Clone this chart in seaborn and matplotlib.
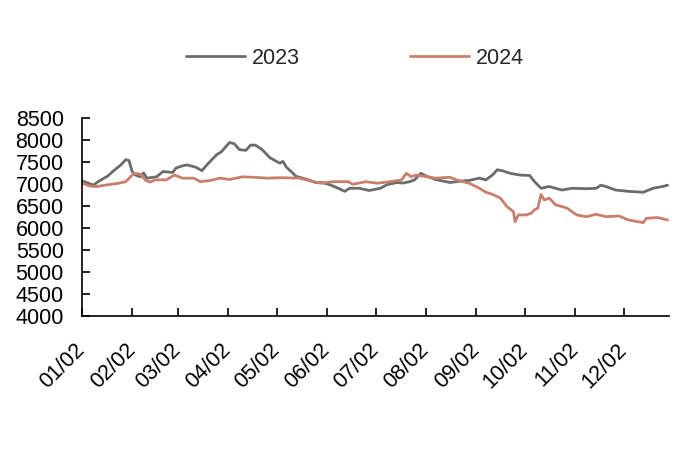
import pandas as pd
import matplotlib
matplotlib.use("Agg")
import matplotlib.pyplot as plt
import matplotlib.dates as mdates
import seaborn as sns

# === DATA (days counted from 01/02) ===
DAYS_2023 = [0, 3, 7, 10, 16, 19, 24, 27, 29, 31, 33, 36, 38, 40, 46, 50, 56, 58,
             62, 65, 70, 74, 78, 83, 86, 91, 94, 97, 101, 104, 107, 111, 116, 122,
             124, 126, 129, 132, 139, 144, 148, 153, 158, 162, 165, 171, 177, 184,
             188, 194, 198, 202, 205, 209, 212, 218, 227, 233, 239, 245, 249, 253,
             256, 259, 264, 270, 276, 279, 283, 288, 292, 296, 302, 311, 317, 320,
             323, 329, 337, 346, 352, 358, 361]
VALS_2023 = [7070, 7030, 6970, 7050, 7180, 7280, 7430, 7550, 7530, 7280, 7200, 7160,
             7250, 7130, 7160, 7280, 7260, 7360, 7410, 7430, 7380, 7300, 7470, 7660,
             7730, 7940, 7910, 7780, 7760, 7880, 7880, 7780, 7590, 7470, 7510, 7380,
             7280, 7170, 7100, 7030, 7030, 6980, 6900, 6830, 6900, 6900, 6850, 6900,
             6980, 7030, 7020, 7050, 7090, 7240, 7180, 7100, 7030, 7060, 7080, 7130,
             7090, 7200, 7320, 7300, 7240, 7200, 7190, 7050, 6900, 6940, 6900, 6860,
             6900, 6890, 6900, 6970, 6940, 6860, 6830, 6810, 6900, 6940, 6970]

DAYS_2024 = [0, 5, 9, 15, 22, 27, 30, 32, 36, 39, 42, 45, 52, 57, 62, 69, 73, 79,
             85, 91, 99, 106, 114, 122, 134, 140, 147, 155, 164, 167, 175, 182, 190,
             197, 200, 203, 206, 212, 218, 227, 231, 239, 245, 249, 253, 258, 262,
             266, 267, 269, 274, 277, 279, 281, 283, 285, 288, 292, 299, 305, 311,
             317, 323, 331, 337, 346, 348, 355, 361]
VALS_2024 = [7020, 6950, 6940, 6975, 7010, 7050, 7160, 7240, 7220, 7090, 7040, 7090,
             7090, 7200, 7130, 7130, 7050, 7075, 7130, 7100, 7160, 7150, 7130, 7140,
             7130, 7075, 7015, 7050, 7050, 6990, 7050, 7015, 7050, 7090, 7240, 7165,
             7200, 7165, 7130, 7150, 7090, 7010, 6900, 6810, 6765, 6675, 6485, 6370,
             6140, 6295, 6295, 6335, 6410, 6450, 6760, 6635, 6675, 6525, 6450, 6295,
             6255, 6310, 6255, 6270, 6180, 6120, 6220, 6235, 6180]

YEARS = ["2023", "2024"]
COLORS = ["#6b6b6b", "#c97f6c"]
Y_TICKS = list(range(4000, 8501, 500))


def build_frame():
    start = pd.Timestamp("2023-01-02")
    parts = []
    for year, days, vals in [("2023", DAYS_2023, VALS_2023), ("2024", DAYS_2024, VALS_2024)]:
        parts.append(pd.DataFrame({
            "date": start + pd.to_timedelta(days, unit="D"),
            "value": vals,
            "year": year,
        }))
    return pd.concat(parts, ignore_index=True), start


def main():
    df, start = build_frame()

    sns.set_style("white")
    plt.rcParams["font.family"] = ["Liberation Sans", "DejaVu Sans"]
    fs = 15.5

    fig = plt.figure(figsize=(7, 4.62), dpi=100)
    ax = fig.add_axes([0.117, 0.316, 0.839, 0.429])

    sns.lineplot(data=df, x="date", y="value", hue="year", hue_order=YEARS,
                 palette=COLORS, linewidth=2.0, ax=ax, legend=True)

    ax.set_xlim(start, start + pd.Timedelta(days=362))
    ax.set_ylim(4000, 8500)
    ax.set_yticks(Y_TICKS)
    ax.set_xlabel("")
    ax.set_ylabel("")

    ax.xaxis.set_major_locator(mdates.MonthLocator(bymonthday=2))
    ax.xaxis.set_major_formatter(mdates.DateFormatter("%m/%d"))

    for side in ["top", "right"]:
        ax.spines[side].set_visible(False)
    for side in ["left", "bottom"]:
        ax.spines[side].set_color("black")
        ax.spines[side].set_linewidth(1.2)

    ax.tick_params(axis="both", direction="in", length=6, width=1.2,
                   color="black", labelsize=fs, labelcolor="black")
    ax.tick_params(axis="y", pad=13, left=True)
    ax.tick_params(axis="x", pad=22, bottom=True)
    plt.setp(ax.get_xticklabels(), rotation=45, ha="right", va="center",
             rotation_mode="anchor")

    handles, labels = ax.get_legend_handles_labels()
    ax.legend(handles, labels, loc="center", bbox_to_anchor=(0.507, 0.874),
              bbox_transform=fig.transFigure, ncol=2, frameon=False, fontsize=fs,
              handlelength=2.75, handletextpad=0.33, columnspacing=5.1)

    fig.savefig("out.png", dpi=100)


if __name__ == "__main__":
    main()
